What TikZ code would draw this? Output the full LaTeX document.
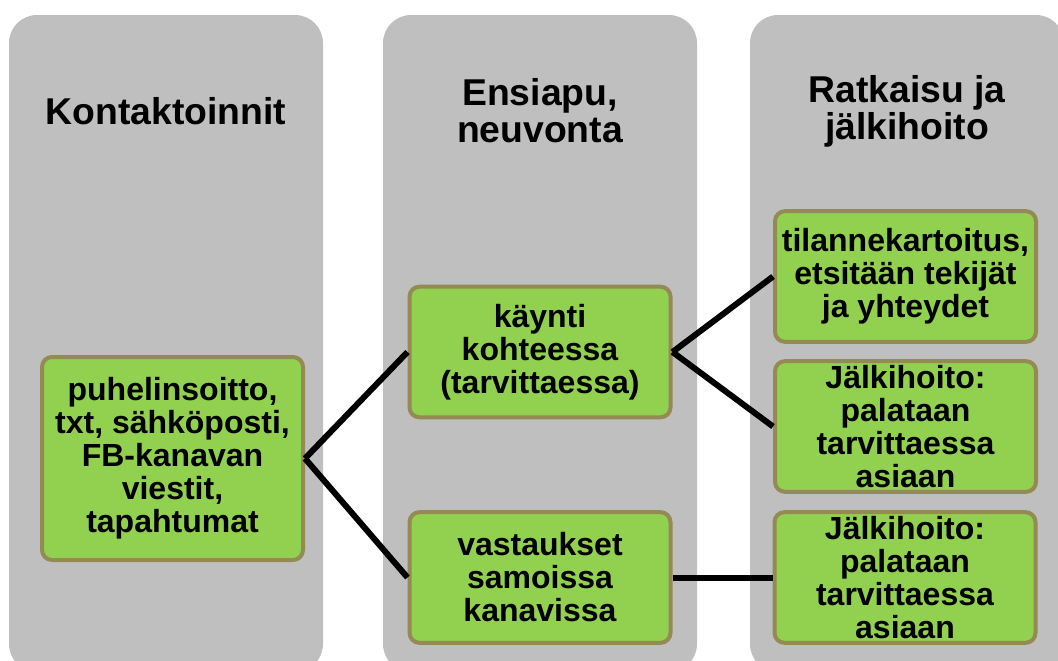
\documentclass[tikz,border=0pt]{standalone}
\usepackage{fontspec}
\setmainfont{Liberation Sans}
\usetikzlibrary{positioning}
\definecolor{colgray}{HTML}{BFBFBF}
\definecolor{leafgreen}{HTML}{92D050}
\definecolor{olivebrd}{HTML}{948A54}
\tikzset{
  column/.style={fill=colgray, rounded corners=21pt},
  heading/.style={align=center, font=\fontsize{28}{27.75}\selectfont\bfseries},
  task/.style={draw=olivebrd, line width=3pt, fill=leafgreen, rounded corners=7.5pt,
    minimum width=195.75pt, minimum height=98pt, inner sep=0pt, align=center,
    font=\fontsize{24}{24.75}\selectfont\bfseries},
  link/.style={draw=black, line width=4.5pt}
}

\begin{document}
\begin{tikzpicture}[x=0.75pt, y=-0.75pt, node distance=75pt]
    \clip (0,0) rectangle (1058,661);

    % columns
    \fill[column] (9,15) rectangle (323,672);
    \fill[column] (383,15) rectangle (697,672);
    \fill[column] (750,15) rectangle (1064,672);

    \node[heading] (h1) at (166,111) {Kontaktoinnit};
    \node[heading] (h2) at (540,111) {Ensiapu,\\neuvonta};
    \node[heading] (h3) at (907,111) {Ratkaisu ja\\jälkihoito};

    % boxes
    \node[task, minimum height=152.25pt] (contact) at (172.5,458.5)
        {puhelinsoitto,\\txt, sähköposti,\\FB-kanavan\\viestit,\\tapahtumat};
    \node[task] (visit)   at (540,352)   {käynti\\kohteessa\\(tarvittaessa)};
    \node[task] (answers) at (540,577.5) {vastaukset\\samoissa\\kanavissa};

    \node[task] (survey) at (905.5,276.5) {tilannekartoitus,\\etsitään tekijät\\ja yhteydet};
    \node[task] (after1) at (905.5,426.5) {Jälkihoito:\\palataan\\tarvittaessa\\asiaan};
    \node[task, right=of answers] (after2) {Jälkihoito:\\palataan\\tarvittaessa\\asiaan};

    \draw[link] (contact.east) -- (visit.west);
    \draw[link] (contact.east) -- (answers.west);
    \draw[link] (visit.east) -- (survey.west);
    \draw[link] (visit.east) -- (after1.west);
    \draw[link] (answers.east) -- (after2.west);
\end{tikzpicture}
\end{document}
